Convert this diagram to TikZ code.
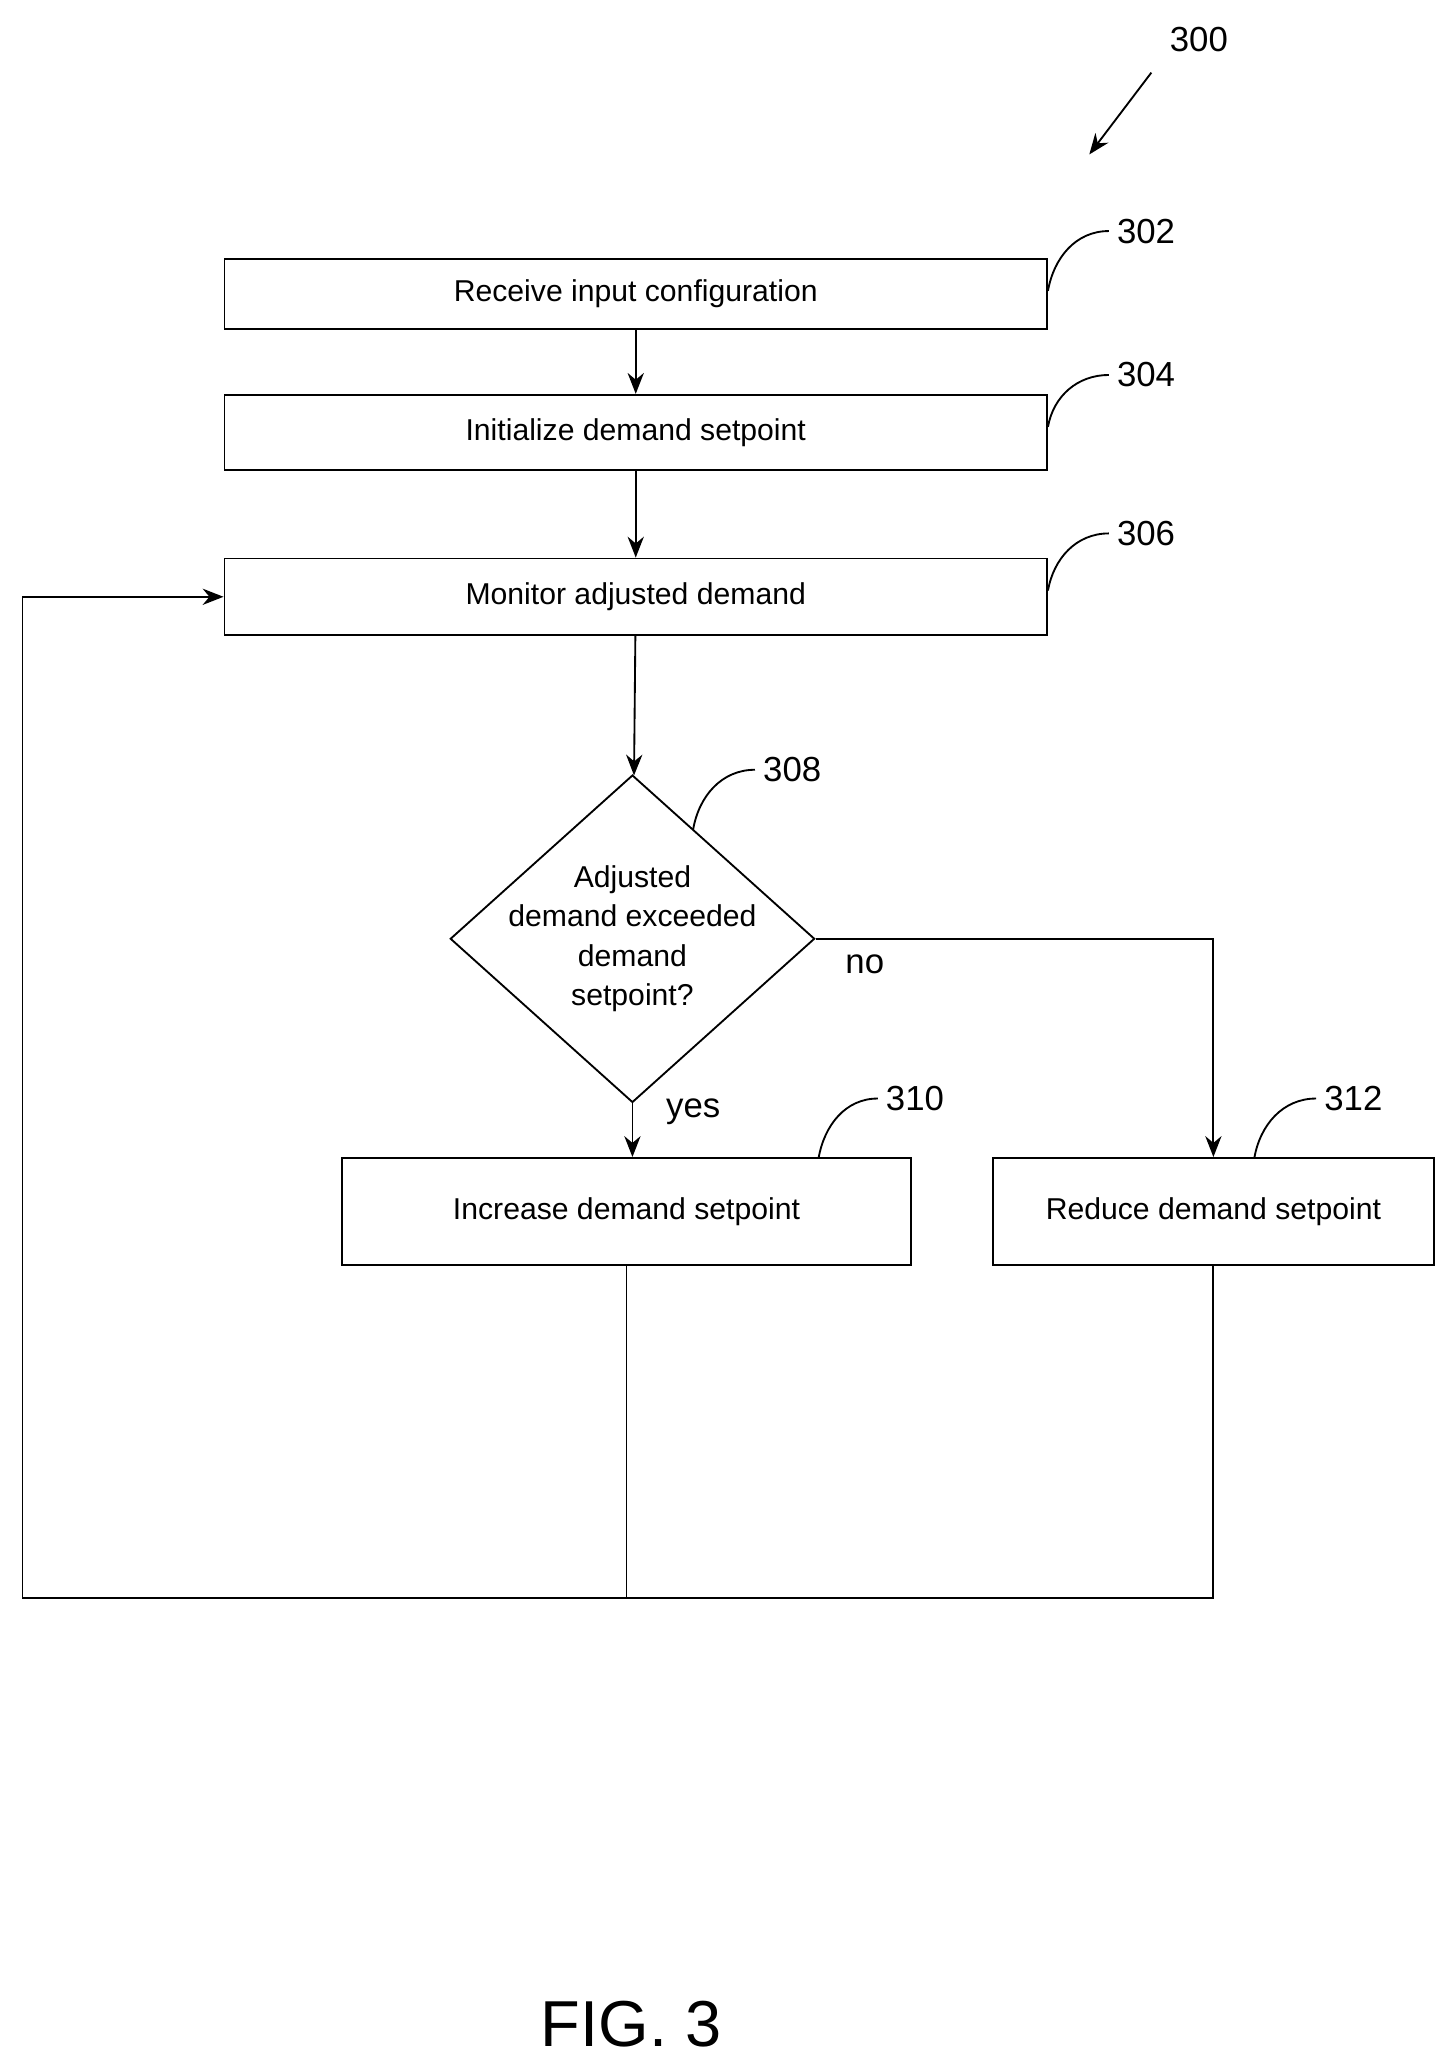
\documentclass[tikz,border=0pt]{standalone}
\usepackage{fontspec}
\setmainfont{Liberation Sans}
\usetikzlibrary{shapes.geometric,arrows.meta}
\tikzset{
  stage/.style={draw,thick,inner sep=0pt,font=\fontsize{13}{15}\selectfont},
  ref/.style={font=\fontsize{15}{17}\selectfont},
  flow/.style={thick,-{Stealth[length=9pt,width=7pt]}},
  lead/.style={thick}
}
\begin{document}
\begin{tikzpicture}[x=0.02cm,y=-0.02cm]
\useasboundingbox (0,0) rectangle (1100,1564);
% boxes
\node[stage,minimum width=623*0.02cm,minimum height=53*0.02cm] (recv) at (481.5,222.5) {Receive input configuration};
\node[stage,minimum width=623*0.02cm,minimum height=57*0.02cm] (init) at (481.5,327.5) {Initialize demand setpoint};
\node[stage,minimum width=623*0.02cm,minimum height=58*0.02cm] (mon) at (481.5,452) {Monitor adjusted demand};
\node[stage,diamond,minimum width=276*0.02cm,minimum height=248*0.02cm] (dec) at (479,711) {};
\node[align=center,font=\fontsize{13}{17}\selectfont] (dectext) at (479,711) {Adjusted\\demand exceeded\\demand\\setpoint?};
\node[stage,minimum width=431*0.02cm,minimum height=81*0.02cm] (inc) at (474.5,917.5) {Increase demand setpoint};
\node[stage,minimum width=334*0.02cm,minimum height=81*0.02cm] (red) at (919,917.5) {Reduce demand setpoint};
% flow
\draw[flow] (recv) -- (init);
\draw[flow] (init) -- (mon);
\draw[flow] (mon) -- (dec);
\draw[flow] (dec.south) -- (dec.south |- inc.north);
\draw[flow] (dec.east) -| (red.north);
\node[ref] (no) at (655,730) {no};
\node[ref] (yes) at (525,842) {yes};
% loop back
\coordinate (jl) at (17,1210);
\coordinate (ji) at (474.5,1210);
\coordinate (jr) at (919,1210);
\draw[thick] (inc.south) -- (ji);
\draw[thick] (red.south) -- (jr) -- (jl);
\draw[flow] (jl) |- (mon.west);
% reference numerals
\node[ref] (n300) at (908,30) {300};
\node[ref] (n302) at (868,175) {302};
\node[ref] (n304) at (868,284) {304};
\node[ref] (n306) at (868,404) {306};
\node[ref] (n308) at (600,583) {308};
\node[ref] (n310) at (693,832) {310};
\node[ref] (n312) at (1025,832) {312};
\coordinate (a300) at (872,55);
\coordinate (b300) at (825,117);
\draw[flow] (a300) -- (b300);
\draw[lead] (recv.north east) ++(0,25) to[out=80,in=180] (n302.west);
\draw[lead] (init.north east) ++(0,25) to[out=80,in=180] (n304.west);
\draw[lead] (mon.north east) ++(0,25) to[out=80,in=180] (n306.west);
\draw[lead] (525,628) to[out=80,in=180] (n308.west);
\draw[lead] (620,877) to[out=80,in=180] (n310.west);
\draw[lead] (950,877) to[out=80,in=180] (n312.west);
\node[font=\fontsize{28}{32}\selectfont] (fig) at (478,1533) {FIG. 3};
\end{tikzpicture}
\end{document}
